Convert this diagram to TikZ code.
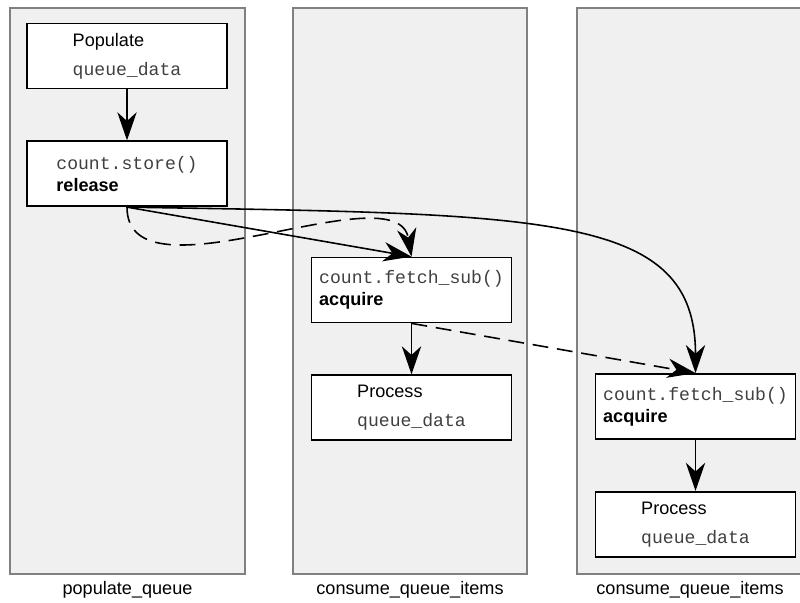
\documentclass[tikz,border=0pt]{standalone}
\usepackage{fontspec}
\setmainfont{Liberation Sans}
\setmonofont{Liberation Mono}
\usetikzlibrary{arrows.meta}
\usetikzlibrary{positioning}
\tikzset{
	lane/.style={draw=black!50,fill=black!6,line width=0.6pt},
	box/.style={draw,fill=white,line width=1pt,minimum width=4cm,minimum height=1.3cm,align=left,inner sep=0pt},
	flow/.style={-{Stealth[length=16pt,width=11pt,inset=5pt]},line width=0.9pt},
	sync/.style={flow,dash pattern=on 9pt off 5pt},
}
\newcommand{\code}[1]{{\ttfamily\color{black!75}#1}}

\begin{document}
\begin{tikzpicture}[font=\fontsize{10.3}{12.5}\selectfont,node distance=1.02cm]
		\clip (0,0) rectangle (16,12.04);
		\draw[lane] (0.2,0.56) rectangle (4.9,11.88);
		\draw[lane] (5.86,0.56) rectangle (10.54,11.88);
		\draw[lane] (11.54,0.56) rectangle (16.3,11.88);
		\node[box](A) at (2.54,10.92) {Populate\\[4pt]\code{queue\_data}};
		\node[box,below=of A](B) {\code{count.store()}\\\textbf{release}};
		\node[box](C) at (8.23,6.24) {\code{count.fetch\_sub()}\\\textbf{acquire}};
		\node[box,below=of C](D) {Process\\[4pt]\code{queue\_data}};
		\node[box](E) at (13.91,3.91) {\code{count.fetch\_sub()}\\\textbf{acquire}};
		\node[box,below=of E](F) {Process\\[4pt]\code{queue\_data}};
		\node(a) at (2.55,0.25) {populate\_queue};
		\node(c) at (8.2,0.25) {consume\_queue\_items};
		\node(e) at (13.8,0.25) {consume\_queue\_items};
		\draw[flow] (A) -- (B);
		\draw[flow] (C) -- (D);
		\draw[flow] (E) -- (F);
		\draw[flow] (B.south) -- (C.north);
		\draw[flow] (B.south) .. controls +(8.46,-0.14) and +(0,3.2) .. (E.north);
		\draw[sync] (B.south) .. controls +(0,-2) and +(-0.3,1.74) .. (C.north);
		\draw[sync] (C.south) -- (E.north);
	\end{tikzpicture}
\end{document}
